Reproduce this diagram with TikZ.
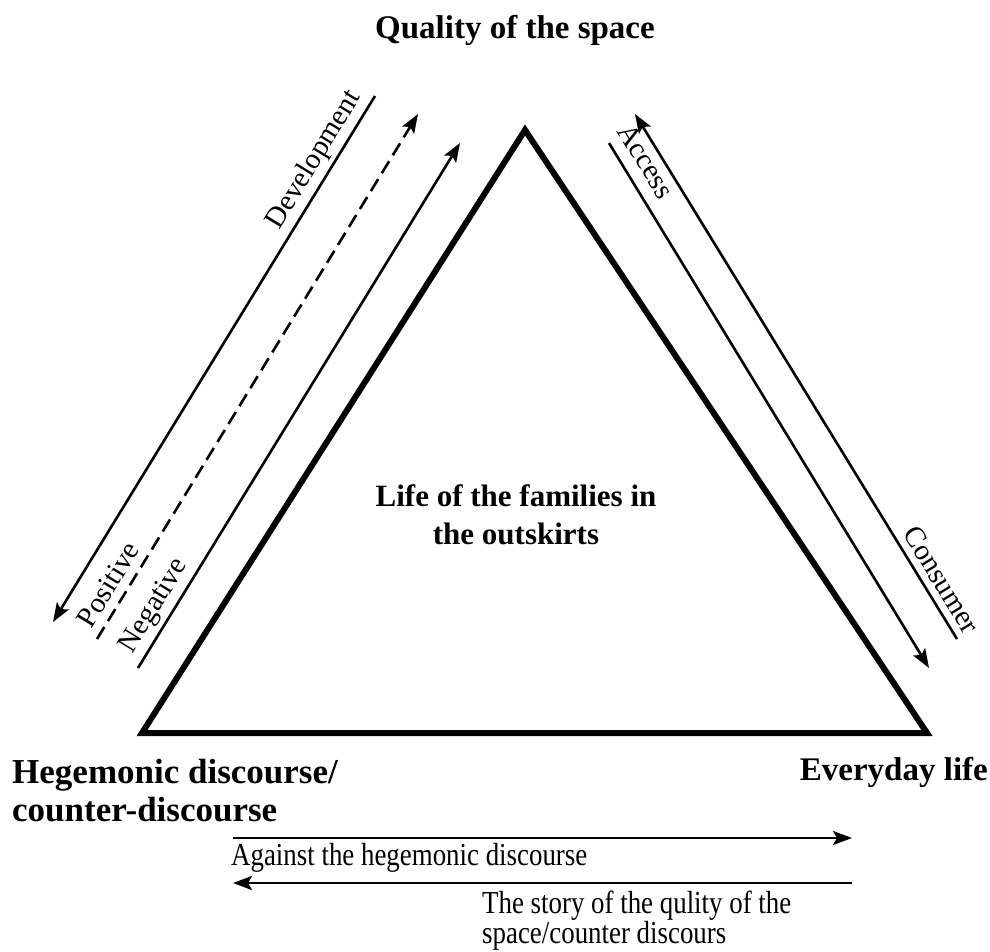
\documentclass[tikz,border=0pt]{standalone}
\usepackage{fontspec}
\setmainfont{Liberation Serif}
\newfontfamily\condfont[FakeStretch=0.84]{Liberation Serif}
\usetikzlibrary{arrows.meta}
\begin{document}
\begin{tikzpicture}[x=1pt,y=-1pt,
  thinline/.style={line width=2.6pt},
  arr/.style={-{Stealth[length=19pt,width=14pt,inset=4pt]}},
  rarr/.style={{Stealth[length=19pt,width=14pt,inset=4pt]}-},
  boldlab/.style={font=\fontsize{33}{38}\selectfont\bfseries, inner sep=0pt},
  sidelab/.style={font=\fontsize{29}{32}\selectfont, inner sep=4pt},
  bottomlab/.style={font=\condfont\fontsize{32}{28}\selectfont, inner sep=0pt, align=left},
]
\useasboundingbox (0,0) rectangle (990,952);

% triangle
\coordinate (top) at (525,130);
\coordinate (bl) at (142,733);
\coordinate (br) at (927,733);
\draw[line width=6pt, line join=miter] (top) -- (bl) -- (br) -- cycle;

% left side arrows
\coordinate (devT) at (375,96);
\coordinate (devB) at (53,622);
\draw[thinline, rarr] (devB) -- (devT) node[sidelab, pos=0.86, sloped, above] {Development};

\coordinate (posB) at (97,639);
\coordinate (posT) at (418,114);
\draw[thinline, arr, dash pattern=on 14pt off 7pt] (posB) -- (posT) node[sidelab, pos=0.085, sloped, above=4pt] {Positive};

\coordinate (negB) at (138,668);
\coordinate (negT) at (460,143);
\draw[thinline, arr] (negB) -- (negT) node[sidelab, pos=0.1, sloped, above] {Negative};

% right side arrows
\coordinate (accT) at (635,114);
\coordinate (accB) at (957,639);
\draw[thinline, rarr] (accT) -- (accB)
  node[sidelab, pos=0.075, sloped, below] {Access}
  node[sidelab, pos=0.905, sloped, above=3pt] {Consumer};

\coordinate (inT) at (609,143);
\coordinate (inB) at (929,668);
\draw[thinline, arr] (inT) -- (inB);

% labels
\node[boldlab] (quality) at (515,30) {Quality of the space};
\node[boldlab, font=\fontsize{31}{38}\selectfont\bfseries, align=center] (life) at (516,515) {Life of the families in\\the outskirts};
\node[boldlab, font=\fontsize{35}{38}\selectfont\bfseries, align=left, anchor=west] (hege) at (12,791) {Hegemonic discourse/\\counter-discourse};
\node[boldlab, anchor=east] (every) at (988,772) {Everyday life};

% bottom arrows
\coordinate (b1L) at (233,838);
\coordinate (b1R) at (852,838);
\draw[line width=2.6pt, arr] (b1L) -- (b1R);
\node[bottomlab, anchor=west] (against) at (231,858) {Against the hegemonic discourse};

\coordinate (b2L) at (233,883);
\coordinate (b2R) at (852,883);
\draw[line width=2.6pt, arr] (b2R) -- (b2L);
\node[bottomlab, anchor=west] (story) at (482,921) {The story of the qulity of the\\space/counter discours};
\end{tikzpicture}
\end{document}
